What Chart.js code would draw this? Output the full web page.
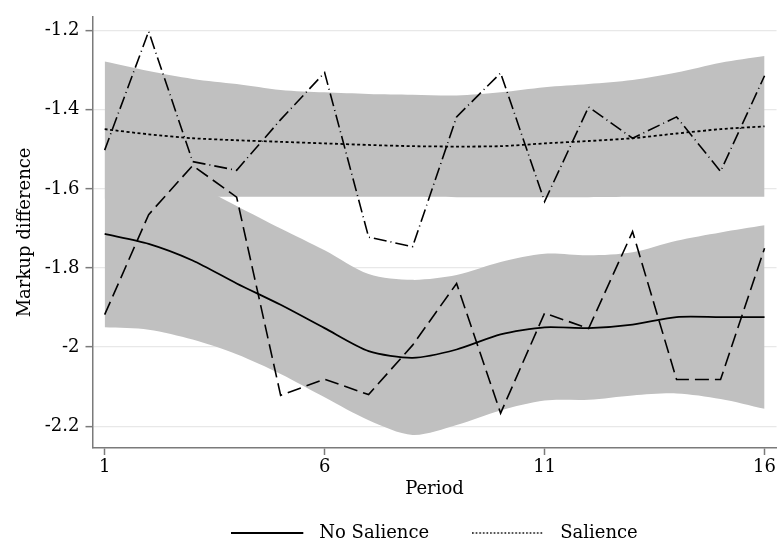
<!DOCTYPE html>
<html>
<head>
<meta charset="utf-8">
<script src="https://cdn.jsdelivr.net/npm/chart.js@4/dist/chart.umd.min.js"></script>
<style>
  html, body { margin: 0; padding: 0; background: #fff; }
  #wrap { width: 778px; height: 545px; }
</style>
</head>
<body>
<div id="wrap"><canvas id="c" width="778" height="545"></canvas></div>
<script>
// ---- data ----
const periods = [1, 2, 3, 4, 5, 6, 7, 8, 9, 10, 11, 12, 13, 14, 15, 16];
const noSalience    = [-1.714, -1.739, -1.781, -1.839, -1.893, -1.952, -2.010, -2.027, -2.006, -1.968, -1.950, -1.952, -1.943, -1.924, -1.924, -1.924];
const salience      = [-1.449, -1.462, -1.472, -1.477, -1.481, -1.485, -1.489, -1.492, -1.493, -1.492, -1.485, -1.479, -1.472, -1.460, -1.449, -1.442];
const noSalienceRaw = [-1.918, -1.665, -1.541, -1.621, -2.122, -2.081, -2.120, -1.995, -1.839, -2.167, -1.914, -1.953, -1.708, -2.082, -2.082, -1.750];
const salienceRaw   = [-1.502, -1.202, -1.531, -1.553, -1.425, -1.306, -1.722, -1.746, -1.418, -1.307, -1.632, -1.393, -1.472, -1.418, -1.556, -1.314];
const noSalienceLo  = [-1.950, -1.956, -1.981, -2.018, -2.068, -2.127, -2.185, -2.222, -2.197, -2.160, -2.135, -2.133, -2.122, -2.117, -2.131, -2.156];
const noSalienceHi  = [-1.500, -1.530, -1.585, -1.643, -1.700, -1.755, -1.815, -1.830, -1.818, -1.785, -1.764, -1.768, -1.760, -1.731, -1.710, -1.692];
const salienceLo    = [-1.625, -1.622, -1.620, -1.620, -1.620, -1.620, -1.620, -1.620, -1.621, -1.621, -1.621, -1.621, -1.620, -1.620, -1.620, -1.620];
const salienceHi    = [-1.278, -1.302, -1.322, -1.335, -1.350, -1.356, -1.360, -1.362, -1.364, -1.356, -1.343, -1.335, -1.325, -1.306, -1.281, -1.264];
const xTicks = [1, 6, 11, 16];
const yTicks = [-2.2, -2.0, -1.8, -1.6, -1.4, -1.2];
const seriesNames = ['No Salience', 'Salience'];
const xTitle = 'Period';
const yTitle = 'Markup difference';

// ---- helpers ----
const pts = arr => periods.map((p, i) => ({ x: p, y: arr[i] }));
const FONT = "'DejaVu Serif', 'Liberation Serif', serif";
const BAND = '#c0c0c0';

function swatch(dash, lw) {
  const c = document.createElement('canvas');
  c.width = 79; c.height = 4;
  const g = c.getContext('2d');
  g.strokeStyle = '#000';
  g.lineWidth = lw;
  g.setLineDash(dash);
  g.beginPath(); g.moveTo(0, 2); g.lineTo(72, 2); g.stroke();
  return c;
}
const swatches = [swatch([], 2), swatch([1.6, 2], 1.6)];

const lineBase = { pointRadius: 0, pointHoverRadius: 0, fill: false, borderColor: '#000' };
const bandBase = { pointRadius: 0, pointHoverRadius: 0, borderWidth: 0, borderColor: 'rgba(0,0,0,0)', backgroundColor: BAND, tension: 0.3, order: 10 };

new Chart(document.getElementById('c'), {
  type: 'line',
  data: {
    datasets: [
      { ...lineBase, label: seriesNames[0], data: pts(noSalience), borderWidth: 1.8, tension: 0.25, order: 1 },
      { ...lineBase, label: seriesNames[1], data: pts(salience), borderWidth: 1.8, borderDash: [3, 2.5], tension: 0.25, order: 1 },
      { ...lineBase, label: 'No Salience (raw)', data: pts(noSalienceRaw), borderWidth: 1.6, borderDash: [14, 6], tension: 0, order: 2 },
      { ...lineBase, label: 'Salience (raw)', data: pts(salienceRaw), borderWidth: 1.6, borderDash: [13, 4, 1, 4], tension: 0, order: 2 },
      { ...bandBase, label: 'ns lo', data: pts(noSalienceLo), fill: false },
      { ...bandBase, label: 'ns hi', data: pts(noSalienceHi), fill: 4 },
      { ...bandBase, label: 's lo', data: pts(salienceLo), fill: false },
      { ...bandBase, label: 's hi', data: pts(salienceHi), fill: 6 }
    ]
  },
  options: {
    responsive: false,
    animation: false,
    events: [],
    layout: { padding: { top: 12, right: 0, left: 0, bottom: -7 } },
    plugins: {
      tooltip: { enabled: false },
      filler: { propagate: false },
      legend: {
        position: 'bottom',
        fullSize: false,
        labels: {
          usePointStyle: true,
          pointStyleWidth: 79,
          padding: 43,
          color: '#000',
          font: { family: FONT, size: 18 },
          generateLabels(chart) {
            const items = Chart.defaults.plugins.legend.labels.generateLabels(chart);
            return items.filter(it => it.datasetIndex < 2)
                        .map(it => ({ ...it, pointStyle: swatches[it.datasetIndex], lineWidth: 0 }));
          }
        }
      }
    },
    scales: {
      x: {
        type: 'linear',
        min: 0.7234,
        max: 16.272,
        afterBuildTicks(s) { s.ticks = xTicks.map(v => ({ value: v })); },
        afterFit(s) { s.height = 33; },
        ticks: { color: '#000', font: { family: FONT, size: 18 }, padding: 2, maxRotation: 0, autoSkip: false,
                 callback: v => String(v) },
        grid: { drawOnChartArea: false, drawTicks: true, tickLength: 7, tickColor: '#7a7a7a', tickWidth: 1.5 },
        border: { display: true, color: '#7a7a7a', width: 1.5 },
        title: { display: true, text: xTitle, color: '#000', font: { family: FONT, size: 18 }, padding: { top: 0, bottom: -19 } }
      },
      y: {
        type: 'linear',
        min: -2.255,
        max: -1.165,
        afterBuildTicks(s) { s.ticks = yTicks.map(v => ({ value: v })); },
        afterFit(s) { s.width = 92.5; },
        ticks: { color: '#000', font: { family: FONT, size: 18 }, padding: 6, autoSkip: false,
                 callback: v => String(Number(v.toFixed(1))) },
        grid: { color: '#e8e8e8', lineWidth: 1.3, drawTicks: true, tickLength: 7, tickColor: '#7a7a7a', tickWidth: 1.5 },
        border: { display: true, color: '#7a7a7a', width: 1.5 },
        title: { display: true, text: yTitle, color: '#000', font: { family: FONT, size: 18 }, padding: { top: 15, bottom: 0 } }
      }
    }
  }
});
</script>
</body>
</html>
